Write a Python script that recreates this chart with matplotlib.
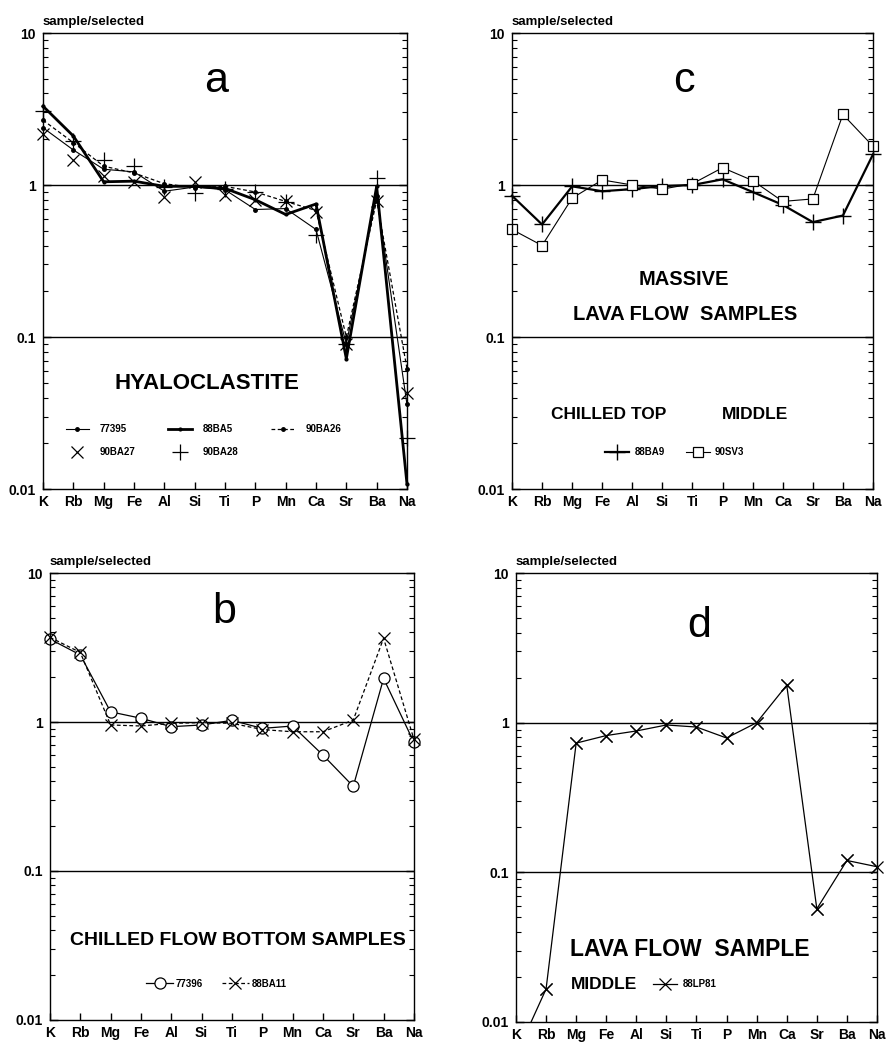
import matplotlib
matplotlib.use('Agg')
import matplotlib.pyplot as plt
from matplotlib.ticker import LogLocator, NullFormatter, FixedLocator, FixedFormatter

plt.rcParams['font.family'] = ['Liberation Sans', 'DejaVu Sans']

# ---------------- data ----------------
elements = ['K', 'Rb', 'Mg', 'Fe', 'Al', 'Si', 'Ti', 'P', 'Mn', 'Ca', 'Sr', 'Ba', 'Na']
ytick_values = [0.01, 0.1, 1, 10]
ytick_labels = ['0.01', '0.1', '1', '10']

# panel a - hyaloclastite
a_77395 = [2.38, 1.70, 1.27, 1.22, 0.91, 0.97, 0.93, 0.69, 0.70, 0.51, 0.090, 0.85, 0.036]
a_88BA5 = [3.30, 2.10, 1.05, 1.06, 0.98, 0.98, 0.95, 0.80, 0.64, 0.75, 0.072, 0.98, 0.0108]
a_90BA26 = [2.67, 1.90, 1.33, 1.20, 1.02, 0.96, 0.98, 0.90, 0.78, 0.68, 0.100, 0.79, 0.062]
a_90BA27 = [2.15, 1.46, 1.15, 1.05, 0.84, 1.05, 0.86, 0.80, 0.79, 0.66, 0.090, 0.79, 0.043]
a_90BA28 = [3.06, 1.94, 1.47, 1.33, 0.97, 0.88, 0.94, 0.90, 0.77, 0.47, 0.090, 1.12, 0.0216]

# panel b - chilled flow bottom
b_77396 = [3.60, 2.82, 1.17, 1.06, 0.93, 0.955, 1.026, 0.906, 0.94, 0.60, 0.37, 1.96, 0.73]
b_88BA11 = [3.70, 2.93, 0.955, 0.94, 0.98, 0.99, 0.98, 0.89, 0.86, 0.86, 1.03, 3.65, 0.765]

# panel c - massive lava flow
c_88BA9 = [0.85, 0.55, 0.98, 0.91, 0.94, 0.985, 1.00, 1.09, 0.90, 0.74, 0.57, 0.63, 1.59]
c_90SV3 = [0.51, 0.40, 0.82, 1.08, 1.00, 0.94, 1.02, 1.30, 1.07, 0.78, 0.81, 2.91, 1.80]

# panel d - lava flow sample
d_88LP81 = [0.006, 0.0166, 0.73, 0.82, 0.88, 0.965, 0.935, 0.79, 1.00, 1.78, 0.057, 0.12, 0.109]

# ---------------- figure ----------------
fig = plt.figure(figsize=(8.89, 10.51), dpi=100)

ax_a = fig.add_axes([0.0484, 0.5347, 0.4094, 0.4339])
ax_c = fig.add_axes([0.5759, 0.5347, 0.4061, 0.4339])
ax_b = fig.add_axes([0.0562, 0.0295, 0.4094, 0.4253])
ax_d = fig.add_axes([0.5804, 0.0276, 0.4061, 0.4272])

x = list(range(len(elements)))


def setup(ax):
    ax.set_yscale('log')
    ax.set_xlim(0, len(elements) - 1)
    ax.set_ylim(0.01, 10)
    ax.xaxis.set_major_locator(FixedLocator(x))
    ax.xaxis.set_major_formatter(FixedFormatter(elements))
    ax.yaxis.set_major_locator(FixedLocator(ytick_values))
    ax.yaxis.set_major_formatter(FixedFormatter(ytick_labels))
    ax.yaxis.set_minor_locator(LogLocator(base=10, subs=[2, 3, 4, 5, 6, 7, 8, 9]))
    ax.yaxis.set_minor_formatter(NullFormatter())
    ax.tick_params(axis='both', which='both', direction='in', color='black')
    ax.tick_params(axis='y', which='both', left=True, right=True)
    ax.tick_params(axis='y', which='major', length=6, width=1, pad=5)
    ax.tick_params(axis='y', which='minor', length=3.5, width=0.8)
    ax.tick_params(axis='x', which='major', length=5, width=1, pad=4, top=False)
    for lab in ax.get_xticklabels() + ax.get_yticklabels():
        lab.set_fontweight('bold')
        lab.set_fontsize(10)
    for sp in ax.spines.values():
        sp.set_linewidth(1.0)
    ax.axhline(1, color='black', lw=1.0, zorder=1)
    ax.axhline(0.1, color='black', lw=1.0, zorder=1)
    ax.text(0.0, 1.012, 'sample/selected', transform=ax.transAxes, ha='left',
            va='bottom', fontsize=9.5, fontweight='bold')


for ax in (ax_a, ax_b, ax_c, ax_d):
    setup(ax)

leg_font = {'weight': 'bold', 'size': 7}

# ---- panel a ----
l1, = ax_a.plot(x, a_77395, '-', color='black', lw=0.8, marker='o', ms=2.5,
                clip_on=False, label='77395')
l2, = ax_a.plot(x, a_88BA5, '-', color='black', lw=2.0, marker='o', ms=2,
                clip_on=False, label='88BA5')
l3, = ax_a.plot(x, a_90BA26, '--', color='black', lw=0.9, marker='o', ms=2.5,
                dashes=(3, 2), clip_on=False, label='90BA26')
l4, = ax_a.plot(x, a_90BA27, linestyle='none', color='black', marker='x', ms=8,
                mew=0.9, clip_on=False, label='90BA27')
l5, = ax_a.plot(x, a_90BA28, linestyle='none', color='black', marker='+', ms=11,
                mew=0.9, clip_on=False, label='90BA28')
ax_a.text(0.476, 0.894, 'a', transform=ax_a.transAxes, ha='center', va='center',
          fontsize=31)
ax_a.text(0.449, 0.232, 'HYALOCLASTITE', transform=ax_a.transAxes, ha='center',
          va='center', fontsize=16, fontweight='bold')
ax_a.legend([l1, l4, l2, l5, l3], ['77395', '90BA27', '88BA5', '90BA28', '90BA26'],
            ncol=3, frameon=False, prop=leg_font, loc='upper left',
            bbox_to_anchor=(0.062, 0.142), borderpad=0, borderaxespad=0,
            handlelength=2.4, handletextpad=1.1, columnspacing=3.4, labelspacing=1.3)

# ---- panel c ----
m1, = ax_c.plot(x, c_88BA9, '-', color='black', lw=1.6, marker='+', ms=12, mew=1.0,
                clip_on=False, label='88BA9')
m2, = ax_c.plot(x, c_90SV3, '-', color='black', lw=0.8, marker='s', ms=7, mew=0.9,
                mfc='white', clip_on=False, label='90SV3')
ax_c.text(0.475, 0.894, 'c', transform=ax_c.transAxes, ha='center', va='center',
          fontsize=31)
ax_c.text(0.475, 0.459, 'MASSIVE', transform=ax_c.transAxes, ha='center',
          va='center', fontsize=14.5, fontweight='bold')
ax_c.text(0.479, 0.382, 'LAVA FLOW  SAMPLES', transform=ax_c.transAxes, ha='center',
          va='center', fontsize=14.5, fontweight='bold')
ax_c.text(0.267, 0.164, 'CHILLED TOP', transform=ax_c.transAxes, ha='center',
          va='center', fontsize=12.5, fontweight='bold')
ax_c.text(0.673, 0.164, 'MIDDLE', transform=ax_c.transAxes, ha='center',
          va='center', fontsize=12.5, fontweight='bold')
ax_c.legend([m1, m2], ['88BA9', '90SV3'], ncol=2, frameon=False, prop=leg_font,
            loc='center left', bbox_to_anchor=(0.258, 0.081), borderpad=0,
            borderaxespad=0, handlelength=2.5, handletextpad=0.5, columnspacing=2.2)

# ---- panel b ----
n1, = ax_b.plot(x, b_77396, '-', color='black', lw=0.9, marker='o', ms=8, mew=0.9,
                mfc='white', clip_on=False, label='77396')
n2, = ax_b.plot(x, b_88BA11, '--', color='black', lw=0.9, marker='x', ms=8, mew=0.9,
                dashes=(3, 2), clip_on=False, label='88BA11')
ax_b.text(0.48, 0.912, 'b', transform=ax_b.transAxes, ha='center', va='center',
          fontsize=31)
ax_b.text(0.517, 0.178, 'CHILLED FLOW BOTTOM SAMPLES', transform=ax_b.transAxes,
          ha='center', va='center', fontsize=14, fontweight='bold')
ax_b.legend([n1, n2], ['77396', '88BA11'], ncol=2, frameon=False, prop=leg_font,
            loc='center left', bbox_to_anchor=(0.265, 0.081), borderpad=0,
            borderaxespad=0, handlelength=2.7, handletextpad=0.3, columnspacing=2.0)

# ---- panel d ----
p1, = ax_d.plot(x, d_88LP81, '-', color='black', lw=0.9, label='88LP81')
ax_d.plot(x, d_88LP81, linestyle='none', color='black', marker='x', ms=8, mew=0.9,
          markevery=list(range(1, len(elements))), clip_on=False)
p1.set_marker('x')
p1.set_markersize(8)
p1.set_markeredgewidth(0.9)
p1.set_markevery(list(range(1, len(elements))))
ax_d.text(0.508, 0.883, 'd', transform=ax_d.transAxes, ha='center', va='center',
          fontsize=31)
ax_d.text(0.481, 0.162, 'LAVA FLOW  SAMPLE', transform=ax_d.transAxes, ha='center',
          va='center', fontsize=16.5, fontweight='bold')
ax_d.text(0.153, 0.084, 'MIDDLE', transform=ax_d.transAxes, ha='left',
          va='center', fontsize=12.5, fontweight='bold')
ax_d.legend([p1], ['88LP81'], frameon=False, prop=leg_font, loc='center left',
            bbox_to_anchor=(0.38, 0.084), borderpad=0, borderaxespad=0,
            handlelength=2.5, handletextpad=0.5, markerfirst=True)

fig.savefig('out.png', dpi=100)
